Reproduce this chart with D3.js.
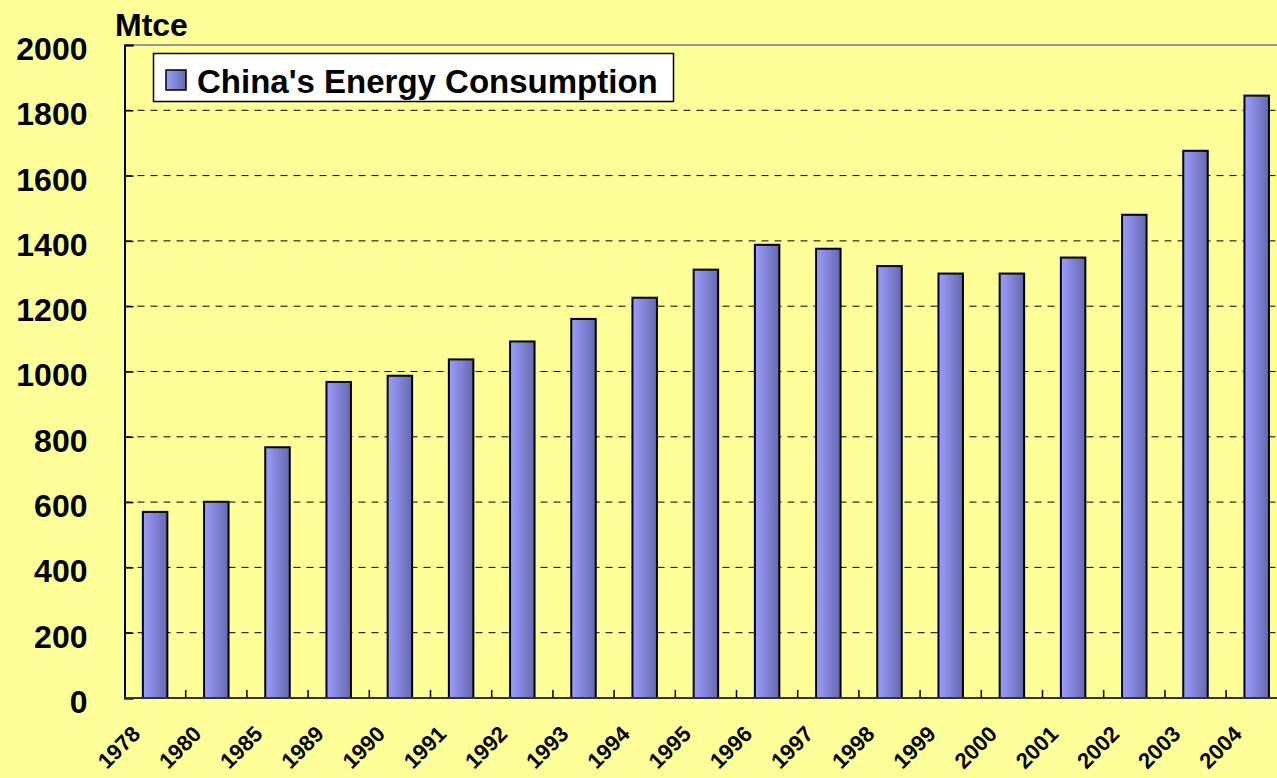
<!DOCTYPE html>
<html>
<head>
<meta charset="utf-8">
<script src="https://cdn.jsdelivr.net/npm/d3@7"></script>
<style>
  body { margin: 0; background: #ffff99; overflow: hidden; }
  svg { display: block; font-family: Arial, "Liberation Sans", sans-serif; }
</style>
</head>
<body>
<svg id="canvas" width="1277" height="778"></svg>
<script>
// data
var years = ['1978','1980','1985','1989','1990','1991','1992','1993','1994','1995','1996','1997','1998','1999','2000','2001','2002','2003','2004'];
var consumption = [570, 601, 768, 968, 987, 1037, 1092, 1161, 1226, 1312, 1388, 1376, 1323, 1300, 1300, 1349, 1480, 1676, 1845];
var yTicks = [0, 200, 400, 600, 800, 1000, 1200, 1400, 1600, 1800, 2000];
var seriesName = "China's Energy Consumption";
var unitLabel = 'Mtce';

var W = 1277, H = 778;
var plotLeft = 124.5, plotTop = 45, plotBottom = 698, bandW = 61.2;
var plotRight = plotLeft + bandW*years.length;

var svg = d3.select('#canvas');
svg.append('rect').attr('width', W).attr('height', H).attr('fill', '#ffff99');

var defs = svg.append('defs');
var grad = defs.append('linearGradient').attr('id', 'barGrad').attr('x1', '0%').attr('x2', '100%').attr('y1', '0%').attr('y2', '0%');
grad.append('stop').attr('offset', '0%').attr('stop-color', '#9b9dff');
grad.append('stop').attr('offset', '100%').attr('stop-color', '#6668ac');

var x = d3.scaleBand().domain(years).range([plotLeft, plotRight]).paddingInner(0.6).paddingOuter(0.3);
var xTick = d3.scaleBand().domain(years).range([plotLeft, plotRight]);
var y = d3.scaleLinear().domain([0, 2000]).range([plotBottom, plotTop]);

// gridlines
svg.append('g').selectAll('line').data(yTicks.filter(d => d > 0 && d < 2000)).join('line')
  .attr('x1', plotLeft).attr('x2', W).attr('y1', d => y(d)).attr('y2', d => y(d))
  .attr('stroke', '#000').attr('stroke-width', 1).attr('stroke-dasharray', '7,6');

// top border of plot area
svg.append('line').attr('x1', plotLeft).attr('x2', W).attr('y1', plotTop).attr('y2', plotTop)
  .attr('stroke', '#999').attr('stroke-width', 2);

// bars
svg.append('g').selectAll('rect').data(consumption).join('rect')
  .attr('x', (d,i) => x(years[i]))
  .attr('y', d => y(d))
  .attr('width', x.bandwidth())
  .attr('height', d => plotBottom - y(d))
  .attr('fill', 'url(#barGrad)')
  .attr('stroke', '#000').attr('stroke-width', 2);

// y axis, ticks point into the plot
var yAxis = svg.append('g').attr('transform', 'translate(' + plotLeft + ',0)')
  .call(d3.axisLeft(y).tickValues(yTicks).tickSize(-9).tickFormat(d3.format('d')));
yAxis.select('.domain').attr('stroke', '#000').attr('stroke-width', 2);
yAxis.selectAll('.tick line').attr('stroke', '#000').attr('stroke-width', 1.5);
yAxis.selectAll('.tick text').attr('x', -37).attr('font-size', 32).attr('font-weight', 'bold')
  .attr('font-family', 'Arial, "Liberation Sans", sans-serif').attr('fill', '#000').attr('dy', '0.45em');

// x axis
svg.append('line').attr('x1', plotLeft).attr('x2', W).attr('y1', plotBottom).attr('y2', plotBottom)
  .attr('stroke', '#333').attr('stroke-width', 2);
svg.append('g').selectAll('line').data(years.slice(1)).join('line')
  .attr('x1', d => xTick(d)).attr('x2', d => xTick(d))
  .attr('y1', plotBottom).attr('y2', plotBottom - 8)
  .attr('stroke', '#000').attr('stroke-width', 1.5);

svg.append('g').selectAll('text').data(years).join('text')
  .attr('transform', d => 'translate(' + (xTick(d) + xTick.bandwidth()/2 - 19) + ',' + 730 + ') rotate(-45)')
  .attr('text-anchor', 'end')
  .attr('dy', '0.35em')
  .attr('font-size', 22).attr('font-weight', 'bold').attr('fill', '#000')
  .text(d => d);

// unit label
svg.append('text').attr('x', 115).attr('y', 36).attr('font-size', 32).attr('font-weight', 'bold')
  .attr('fill', '#000').text(unitLabel);

// legend
var lg = svg.append('g');
lg.append('rect').attr('x', 153.5).attr('y', 53.5).attr('width', 520).attr('height', 48)
  .attr('fill', '#fff').attr('stroke', '#000').attr('stroke-width', 1.5);
lg.append('rect').attr('x', 166).attr('y', 70).attr('width', 20).attr('height', 20)
  .attr('fill', 'url(#barGrad)').attr('stroke', '#000').attr('stroke-width', 1.5);
lg.append('text').attr('x', 197).attr('y', 93).attr('font-size', 33).attr('font-weight', 'bold')
  .attr('fill', '#000').text(seriesName);
</script>
</body>
</html>
